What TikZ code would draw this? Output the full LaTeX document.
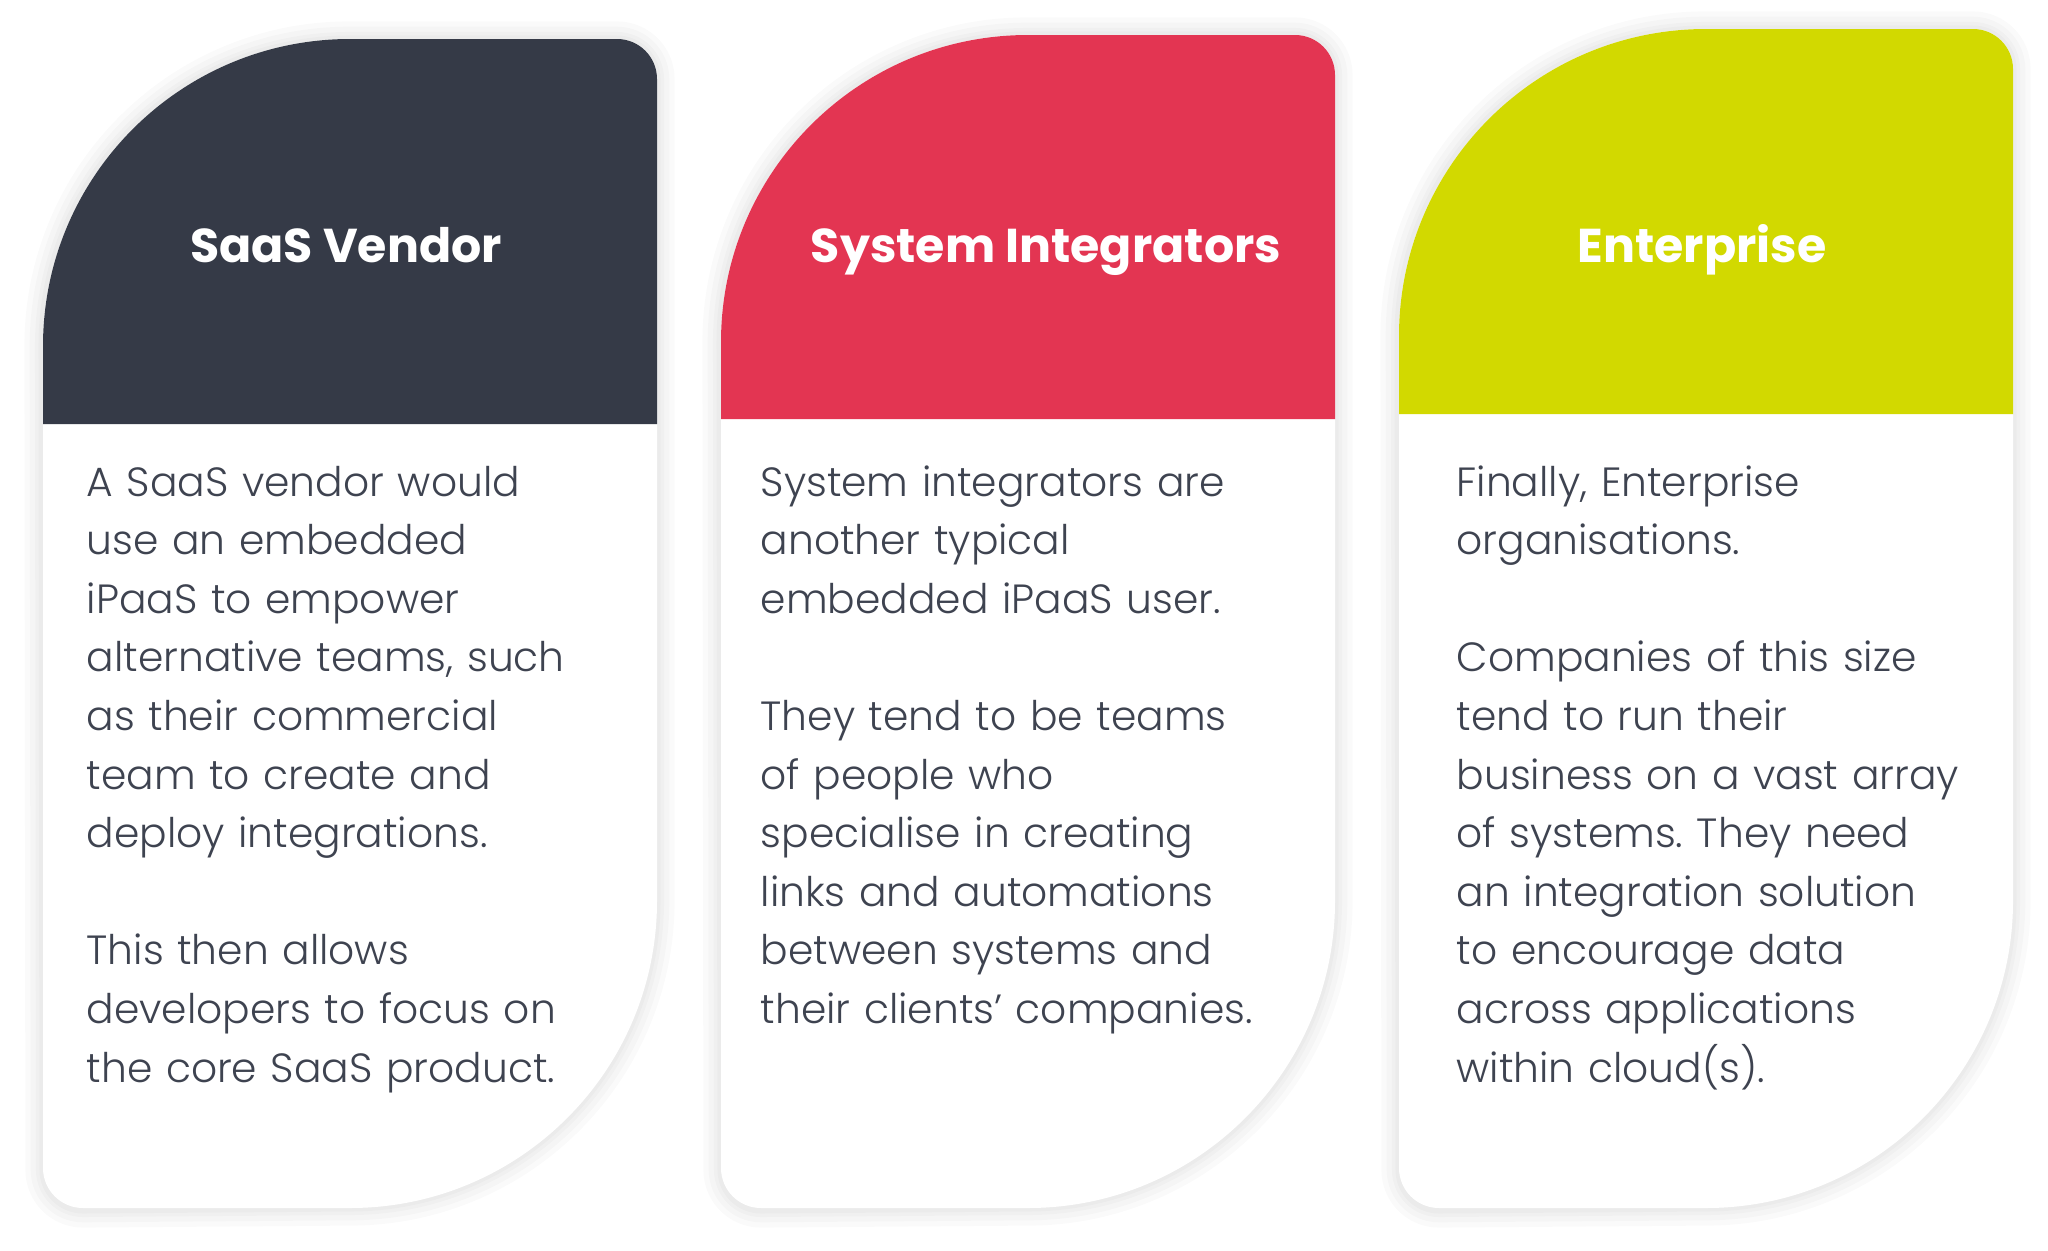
\documentclass[tikz,border=0pt]{standalone}
\usepackage{fontspec}
\setmainfont{Poppins}
\newfontfamily\bodyfont{Poppins Light}
\usetikzlibrary{positioning}
\frenchspacing
\definecolor{saasdark}{HTML}{353A47}
\definecolor{sired}{HTML}{E33552}
\definecolor{entlime}{HTML}{D2D900}
\definecolor{textgray}{HTML}{3E4350}

\begin{document}
\begin{tikzpicture}[x=0.01cm,y=0.01cm,
    heading/.style={anchor=base,inner sep=0,text=white,font=\fontsize{13.5}{16}\selectfont\bfseries},
    bodytext/.style={anchor=base west,inner sep=0,text width=5.5cm,align=left,text=textgray,font=\bodyfont\fontsize{11.6}{16.67}\selectfont}]

    \useasboundingbox[fill=white] (0,0) rectangle (2048,1250);

    % cards: left, top, header bottom, colour
    \foreach \l/\t/\h/\c in {43/1211/826/saasdark,721/1215/831/sired,1399/1221/836/entlime}{
        \foreach \w in {10,7,4,2}
            \draw[black,opacity=0.018,line width=\w pt] (\l-1,\t-307) arc[start angle=180,end angle=90,radius=307] -- (\l+574,\t) arc[start angle=90,end angle=0,radius=40] -- (\l+614,349) arc[start angle=0,end angle=-90,radius=307] -- (\l+40,40) arc[start angle=270,end angle=180,radius=40] -- cycle;
        \fill[white] (\l,\t-307) arc[start angle=180,end angle=90,radius=307] -- (\l+574,\t) arc[start angle=90,end angle=0,radius=40] -- (\l+614,349) arc[start angle=0,end angle=-90,radius=307] -- (\l+40,42) arc[start angle=270,end angle=180,radius=40] -- cycle;
        \fill[\c] (\l,\h) -- (\l,\t-307) arc[start angle=180,end angle=90,radius=307] -- (\l+574,\t) arc[start angle=90,end angle=0,radius=40] -- (\l+614,\h) -- cycle;
    }

    \node[heading] (saas) at (346,988) {SaaS Vendor};
    \node[heading] (sysint) at (1046,988) {System Integrators};
    \node[heading] (enterprise) at (1702,988) {Enterprise};

    \node[bodytext] (saastext) at (86,754) {A SaaS vendor would\\ use an embedded\\ iPaaS to empower\\ alternative teams, such\\ as their commercial\\ team to create and\\ deploy integrations.\\[16.67pt] This then allows\\ developers to focus on\\ the core SaaS product.};
    \node[bodytext] (sysinttext) at (760,754) {System integrators are\\ another typical\\ embedded iPaaS user.\\[16.67pt] They tend to be teams\\ of people who\\ specialise in creating\\ links and automations\\ between systems and\\ their clients’ companies.};
    \node[bodytext] (enterprisetext) at (1456,754) {Finally, Enterprise\\ organisations.\\[16.67pt] Companies of this size\\ tend to run their\\ business on a vast array\\ of systems. They need\\ an integration solution\\ to encourage data\\ across applications\\ within cloud(s).};
\end{tikzpicture}
\end{document}
